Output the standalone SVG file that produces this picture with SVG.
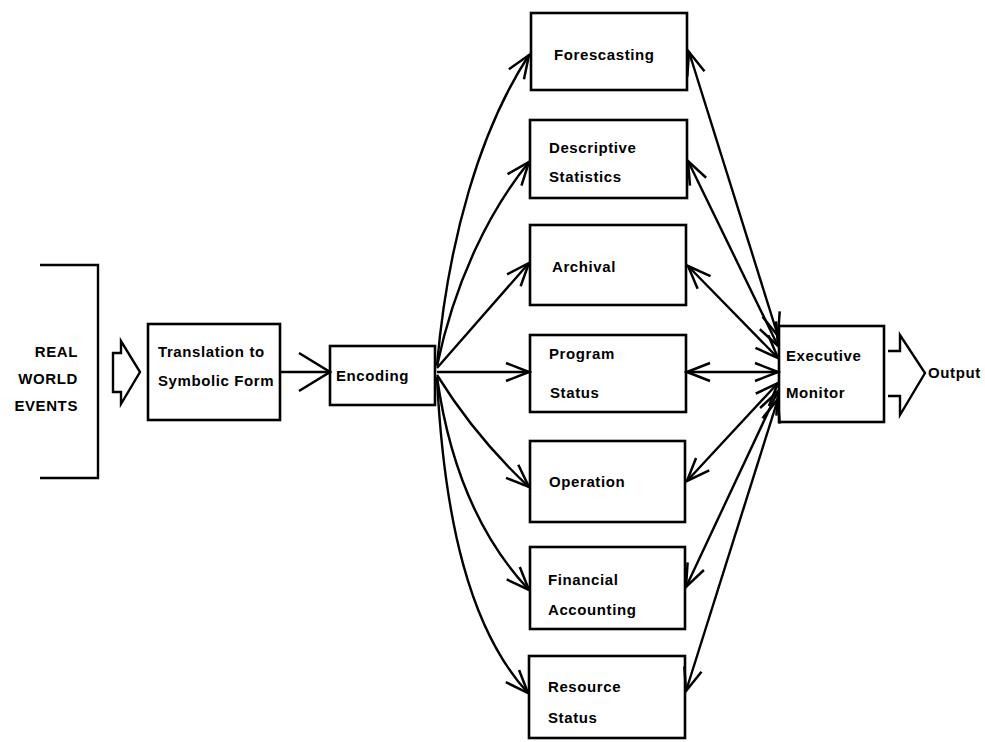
<svg xmlns="http://www.w3.org/2000/svg" width="985" height="742" viewBox="0 0 985 742">
<defs>
<style>
.box{fill:#fff;stroke:#000;stroke-width:2.6}
.ln{fill:none;stroke:#000;stroke-width:2.4}
.t{font-family:"Liberation Sans",Arial,sans-serif;font-weight:bold;font-size:15px;fill:#000;letter-spacing:0.6px}
.c{marker-end:url(#ah)}
.d{marker-start:url(#ah);marker-end:url(#ah)}
</style>
<marker id="ah" markerUnits="userSpaceOnUse" markerWidth="28" markerHeight="22" viewBox="0 0 28 22" refX="25" refY="11" orient="auto-start-reverse">
<path d="M2,2 L25,11 L2,20" fill="none" stroke="#000" stroke-width="2.5"/>
</marker>
<marker id="big" markerUnits="userSpaceOnUse" markerWidth="36" markerHeight="44" viewBox="0 0 36 44" refX="33" refY="22" orient="auto">
<path d="M2,3 L33,22 L2,41" fill="none" stroke="#000" stroke-width="2.6"/>
</marker>
</defs>
<rect width="985" height="742" fill="#fff"/>

<g id="real-world-events">
<path class="ln" d="M40,265 L98,265 L98,478 L40,478" stroke-width="2.6"/>
<text class="t" x="78" y="357" text-anchor="end">REAL</text>
<text class="t" x="78" y="384" text-anchor="end">WORLD</text>
<text class="t" x="78" y="411" text-anchor="end">EVENTS</text>
</g>

<g id="input-arrow">
<path class="ln" d="M113,353 L121,353 L121,341 L140,372 L121,404 L121,392 L113,392 Z"/>
</g>

<g id="translation">
<rect class="box" x="148" y="324" width="132" height="96"/>
<text class="t" x="158" y="357">Translation to</text>
<text class="t" x="158" y="386">Symbolic Form</text>
</g>

<g id="encoding">
<rect class="box" x="330" y="346" width="105" height="59"/>
<text class="t" x="336" y="381">Encoding</text>
</g>

<g id="forescasting">
<rect class="box" x="531" y="13" width="156" height="77"/>
<text class="t" x="554" y="60">Forescasting</text>
</g>
<g id="descriptive-statistics">
<rect class="box" x="530" y="120" width="157" height="78"/>
<text class="t" x="549" y="153">Descriptive</text>
<text class="t" x="549" y="182">Statistics</text>
</g>
<g id="archival">
<rect class="box" x="530" y="225" width="156" height="80"/>
<text class="t" x="552" y="272">Archival</text>
</g>
<g id="program-status">
<rect class="box" x="530" y="335" width="156" height="77"/>
<text class="t" x="549" y="359">Program</text>
<text class="t" x="550" y="398">Status</text>
</g>
<g id="operation">
<rect class="box" x="530" y="441" width="155" height="81"/>
<text class="t" x="549" y="487">Operation</text>
</g>
<g id="financial-accounting">
<rect class="box" x="530" y="547" width="155" height="82"/>
<text class="t" x="548" y="585">Financial</text>
<text class="t" x="548" y="615">Accounting</text>
</g>
<g id="resource-status">
<rect class="box" x="529" y="656" width="156" height="82"/>
<text class="t" x="548" y="692">Resource</text>
<text class="t" x="548" y="723">Status</text>
</g>

<g id="executive-monitor">
<rect class="box" x="779" y="326" width="105" height="96"/>
<text class="t" x="786" y="361">Executive</text>
<text class="t" x="786" y="398">Monitor</text>
</g>

<g id="output-arrow">
<path class="ln" d="M888,351 L900,351 L900,335 L925,373 L900,415 L900,396 L888,396"/>
<text class="t" x="928" y="378">Output</text>
</g>

<g id="connectors">
<path class="ln" d="M280,372 L330,372" marker-end="url(#big)"/>
<path class="ln c" d="M437,365 C448,240 480,130 529,55"/>
<path class="ln c" d="M437,366 C455,280 490,210 529,162"/>
<path class="ln c" d="M437,368 L529,263"/>
<path class="ln c" d="M437,372 L529,372"/>
<path class="ln c" d="M437,375 C465,420 500,460 529,487"/>
<path class="ln c" d="M437,377 C450,470 482,540 529,590"/>
<path class="ln c" d="M437,378 C444,520 470,630 528,693"/>

<path class="ln d" d="M689,52 L778,336"/>
<path class="ln d" d="M688,161 L778,346"/>
<path class="ln d" d="M688,266 L778,358"/>
<path class="ln d" d="M687,372 L778,372"/>
<path class="ln d" d="M687,481 L778,383"/>
<path class="ln d" d="M686,587 L778,391"/>
<path class="ln d" d="M686,691 L778,399"/>
</g>
</svg>
